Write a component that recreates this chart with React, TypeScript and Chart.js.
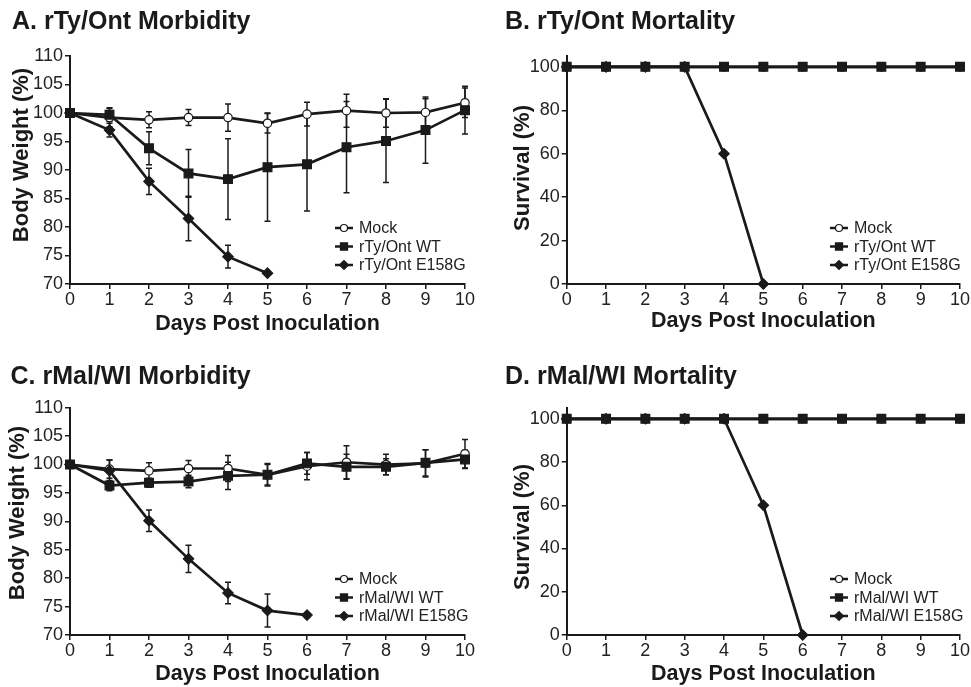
import React, { useEffect, useRef } from 'react';
import { Chart, registerables } from 'chart.js';

Chart.register(...registerables);

// ---------------- data ----------------
const days = [0, 1, 2, 3, 4, 5, 6, 7, 8, 9, 10];
const dayTicks = [0, 1, 2, 3, 4, 5, 6, 7, 8, 9, 10];
const weightTicks = [70, 75, 80, 85, 90, 95, 100, 105, 110];
const survivalTicks = [0, 20, 40, 60, 80, 100];

const tyLabels = ['Mock', 'rTy/Ont WT', 'rTy/Ont E158G'];
const malLabels = ['Mock', 'rMal/WI WT', 'rMal/WI E158G'];

// A. rTy/Ont morbidity (body weight %, mean and SD)
const tyMockWeight = [100, 99.2, 98.8, 99.2, 99.2, 98.2, 99.8, 100.4, 100.0, 100.1, 101.8];
const tyMockWeightSD = [0, 1.6, 1.4, 1.4, 2.4, 1.7, 2.1, 2.9, 2.5, 2.4, 2.6];
const tyWTWeight = [100, 99.7, 93.8, 89.4, 88.4, 90.5, 91.0, 94.0, 95.1, 97.0, 100.5];
const tyWTWeightSD = [0, 1.2, 2.9, 4.2, 7.1, 9.5, 8.2, 8.0, 7.3, 5.8, 4.2];
const tyE158GWeight = [100, 97.0, 88.0, 81.5, 74.8, 71.9];
const tyE158GWeightSD = [0, 1.2, 2.3, 3.9, 2.0, 0];

// B. rTy/Ont mortality (survival %)
const tyMockSurvival = [100, 100, 100, 100, 100, 100, 100, 100, 100, 100, 100];
const tyWTSurvival = [100, 100, 100, 100, 100, 100, 100, 100, 100, 100, 100];
const tyE158GSurvival = [100, 100, 100, 100, 60, 0];

// C. rMal/WI morbidity
const malMockWeight = [100, 99.2, 98.9, 99.3, 99.3, 98.2, 99.7, 100.4, 100.0, 100.2, 101.9];
const malMockWeightSD = [0, 1.6, 1.4, 1.4, 2.3, 1.8, 2.4, 2.9, 1.8, 2.4, 2.5];
const malWTWeight = [100, 96.3, 96.8, 97.0, 98.0, 98.2, 100.2, 99.6, 99.6, 100.3, 100.9];
const malWTWeightSD = [0, 0.9, 0.8, 1.1, 2.4, 2.0, 1.9, 2.2, 1.4, 2.3, 1.6];
const malE158GWeight = [100, 98.9, 90.1, 83.4, 77.4, 74.3, 73.5];
const malE158GWeightSD = [0, 1.9, 1.9, 2.4, 1.9, 2.9, 0.4];

// D. rMal/WI mortality
const malMockSurvival = [100, 100, 100, 100, 100, 100, 100, 100, 100, 100, 100];
const malWTSurvival = [100, 100, 100, 100, 100, 100, 100, 100, 100, 100, 100];
const malE158GSurvival = [100, 100, 100, 100, 100, 60, 0];

// ---------------- styling ----------------
const INK = '#1a1a1a';
const TICK_INK = '#222222';
const FONT = '"Liberation Sans", Arial, Helvetica, sans-serif';
Chart.defaults.font.family = FONT;

const markerStyles = [
  { pointStyle: 'circle', radius: 4.2, bg: '#ffffff', legendRadius: 3.5, order: 3 },
  { pointStyle: 'rect', radius: 6.2, bg: INK, legendRadius: 5, order: 2 },
  { pointStyle: 'rectRot', radius: 5.2, bg: INK, legendRadius: 4.5, order: 1 },
];

type Box = {
  left: number; top: number; w: number; h: number;
  padL: number; padR: number; titleTop: number; titleBottom: number;
  yW: number; xH: number; xTitlePad: number;
  yTitleX: number; yTitleCY: number;
};

const boxA: Box = { left: 0, top: 0, w: 485, h: 340, padL: 12, padR: 20, titleTop: 7, titleBottom: 19, yW: 58, xH: 56, xTitlePad: 3.4, yTitleX: 22, yTitleCY: 155 };
const boxB: Box = { left: 485, top: 0, w: 486, h: 340, padL: 20, padR: 11, titleTop: 7, titleBottom: 19, yW: 61.7, xH: 56, xTitlePad: 6.4, yTitleX: 37.5, yTitleCY: 168 };
const boxC: Box = { left: 0, top: 340, w: 485, h: 347, padL: 10.5, padR: 20, titleTop: 22, titleBottom: 15.7, yW: 59.5, xH: 52, xTitlePad: 0, yTitleX: 18, yTitleCY: 173 };
const boxD: Box = { left: 485, top: 340, w: 486, h: 347, padL: 20, padR: 11, titleTop: 22, titleBottom: 16, yW: 61.7, xH: 52, xTitlePad: 0, yTitleX: 38, yTitleCY: 187 };

type Series = { label: string; values: number[]; sd?: number[] };
type Panel = {
  title: string; yTitle: string; yMin: number; yMax: number; yTicks: number[];
  series: Series[]; box: Box;
};

const panels: Panel[] = [
  {
    title: 'A. rTy/Ont Morbidity', yTitle: 'Body Weight (%)', yMin: 70, yMax: 110, yTicks: weightTicks, box: boxA,
    series: [
      { label: tyLabels[0], values: tyMockWeight, sd: tyMockWeightSD },
      { label: tyLabels[1], values: tyWTWeight, sd: tyWTWeightSD },
      { label: tyLabels[2], values: tyE158GWeight, sd: tyE158GWeightSD },
    ],
  },
  {
    title: 'B. rTy/Ont Mortality', yTitle: 'Survival (%)', yMin: 0, yMax: 105, yTicks: survivalTicks, box: boxB,
    series: [
      { label: tyLabels[0], values: tyMockSurvival },
      { label: tyLabels[1], values: tyWTSurvival },
      { label: tyLabels[2], values: tyE158GSurvival },
    ],
  },
  {
    title: 'C. rMal/WI Morbidity', yTitle: 'Body Weight (%)', yMin: 70, yMax: 110, yTicks: weightTicks, box: boxC,
    series: [
      { label: malLabels[0], values: malMockWeight, sd: malMockWeightSD },
      { label: malLabels[1], values: malWTWeight, sd: malWTWeightSD },
      { label: malLabels[2], values: malE158GWeight, sd: malE158GWeightSD },
    ],
  },
  {
    title: 'D. rMal/WI Mortality', yTitle: 'Survival (%)', yMin: 0, yMax: 105, yTicks: survivalTicks, box: boxD,
    series: [
      { label: malLabels[0], values: malMockSurvival },
      { label: malLabels[1], values: malWTSurvival },
      { label: malLabels[2], values: malE158GSurvival },
    ],
  },
];

// ---------------- plugins ----------------
const errorBarPlugin = {
  id: 'errorBars',
  beforeDatasetsDraw(chart: any) {
    const { ctx, scales } = chart;
    const x = scales.x, y = scales.y;
    chart.data.datasets.forEach((ds: any) => {
      const errs: number[] | undefined = ds.errors;
      if (!errs) return;
      ctx.save();
      ctx.strokeStyle = INK;
      ctx.lineWidth = 1.5;
      ds.data.forEach((pt: any, j: number) => {
        const e = errs[j];
        if (!e) return;
        const px = x.getPixelForValue(pt.x);
        const top = y.getPixelForValue(pt.y + e);
        const bot = y.getPixelForValue(pt.y - e);
        ctx.beginPath();
        ctx.moveTo(px, top); ctx.lineTo(px, bot);
        ctx.moveTo(px - 3, top); ctx.lineTo(px + 3, top);
        ctx.moveTo(px - 3, bot); ctx.lineTo(px + 3, bot);
        ctx.stroke();
      });
      ctx.restore();
    });
  },
};

function drawMarker(ctx: CanvasRenderingContext2D, style: string, r: number, x: number, y: number, fill: string) {
  ctx.beginPath();
  if (style === 'circle') {
    ctx.arc(x, y, r, 0, Math.PI * 2);
  } else if (style === 'rect') {
    const s = r * Math.SQRT1_2;
    ctx.rect(x - s, y - s, 2 * s, 2 * s);
  } else {
    ctx.moveTo(x - r, y); ctx.lineTo(x, y - r); ctx.lineTo(x + r, y); ctx.lineTo(x, y + r); ctx.closePath();
  }
  ctx.fillStyle = fill;
  ctx.fill();
  ctx.lineWidth = 1.2;
  ctx.strokeStyle = INK;
  ctx.stroke();
}

const insideLegendPlugin = {
  id: 'insideLegend',
  afterDraw(chart: any) {
    const { ctx, chartArea } = chart;
    const rows = [-56, -37.5, -19];
    chart.data.datasets.forEach((ds: any, i: number) => {
      const cy = chartArea.bottom + rows[i];
      const x0 = chartArea.right - 130;
      const x1 = chartArea.right - 112;
      ctx.save();
      ctx.strokeStyle = INK;
      ctx.lineWidth = 2.5;
      ctx.beginPath();
      ctx.moveTo(x0, cy); ctx.lineTo(x1, cy);
      ctx.stroke();
      const st = markerStyles[i];
      drawMarker(ctx, st.pointStyle, st.legendRadius, (x0 + x1) / 2, cy, st.bg);
      ctx.fillStyle = TICK_INK;
      ctx.font = `16px ${FONT}`;
      ctx.textBaseline = 'middle';
      ctx.textAlign = 'left';
      ctx.fillText(ds.label, chartArea.right - 106, cy + 1);
      ctx.restore();
    });
  },
};

const yTitlePlugin = {
  id: 'yTitleManual',
  afterDraw(chart: any, _args: any, opts: any) {
    const { ctx } = chart;
    ctx.save();
    ctx.translate(opts.x, opts.cy);
    ctx.rotate(-Math.PI / 2);
    ctx.font = `bold 22px ${FONT}`;
    ctx.fillStyle = INK;
    ctx.textAlign = 'center';
    ctx.textBaseline = 'middle';
    ctx.fillText(opts.text, 0, 0);
    ctx.restore();
  },
};

// ---------------- config ----------------
function buildConfig(p: Panel): any {
  const b = p.box;
  const datasets = p.series.map((s, i) => {
    const st = markerStyles[i];
    return {
      label: s.label,
      data: s.values.map((v, k) => ({ x: days[k], y: v })),
      errors: s.sd,
      order: st.order,
      borderColor: INK,
      borderWidth: 2.7,
      backgroundColor: st.bg,
      pointStyle: st.pointStyle,
      pointRadius: st.radius,
      pointHoverRadius: st.radius,
      pointBorderWidth: 1.2,
      pointBackgroundColor: st.bg,
      pointBorderColor: INK,
      tension: 0,
      fill: false,
      clip: false,
    };
  });
  const tickFont = { family: FONT, size: 18 };
  const grid = { drawOnChartArea: false, drawTicks: true, tickLength: 5, color: INK, lineWidth: 1.5 };
  const border = { display: true, color: INK, width: 2 };
  return {
    type: 'line',
    data: { datasets },
    options: {
      responsive: false,
      animation: false,
      devicePixelRatio: 1,
      layout: { padding: { left: b.padL, right: b.padR, top: 0, bottom: 0 } },
      plugins: {
        legend: { display: false },
        tooltip: { enabled: false },
        title: {
          display: true,
          text: p.title,
          align: 'start',
          color: INK,
          font: { family: FONT, size: 25, weight: 'bold', lineHeight: 1.2 },
          padding: { top: b.titleTop, bottom: b.titleBottom },
        },
        yTitleManual: { text: p.yTitle, x: b.yTitleX, cy: b.yTitleCY },
      },
      scales: {
        x: {
          type: 'linear',
          min: 0,
          max: 10,
          afterBuildTicks: (s: any) => { s.ticks = dayTicks.map((v) => ({ value: v })); },
          afterFit: (s: any) => { s.height = b.xH; },
          ticks: { color: TICK_INK, font: tickFont, padding: 0, maxRotation: 0, autoSkip: false },
          grid,
          border,
          title: {
            display: true,
            text: 'Days Post Inoculation',
            color: INK,
            font: { family: FONT, size: 21.5, weight: 'bold', lineHeight: 1.2 },
            padding: { top: 0, bottom: b.xTitlePad },
          },
        },
        y: {
          type: 'linear',
          min: p.yMin,
          max: p.yMax,
          afterBuildTicks: (s: any) => { s.ticks = p.yTicks.map((v) => ({ value: v })); },
          afterFit: (s: any) => { s.width = b.yW; },
          ticks: { color: TICK_INK, font: tickFont, padding: 2, autoSkip: false },
          grid,
          border,
          title: { display: false },
        },
      },
    },
    plugins: [errorBarPlugin, insideLegendPlugin, yTitlePlugin],
  };
}

function ChartPanel({ panel }: { panel: Panel }) {
  const ref = useRef<HTMLCanvasElement>(null);
  useEffect(() => {
    if (!ref.current) return;
    const chart = new Chart(ref.current, buildConfig(panel));
    return () => chart.destroy();
  }, [panel]);
  const b = panel.box;
  return (
    <canvas
      ref={ref}
      width={b.w}
      height={b.h}
      style={{ position: 'absolute', left: b.left, top: b.top, display: 'block' }}
    />
  );
}

export default function App() {
  return (
    <div style={{ position: 'absolute', left: 0, top: 0, width: 971, height: 687, background: '#ffffff', overflow: 'hidden' }}>
      {panels.map((p) => (
        <ChartPanel key={p.title} panel={p} />
      ))}
    </div>
  );
}
